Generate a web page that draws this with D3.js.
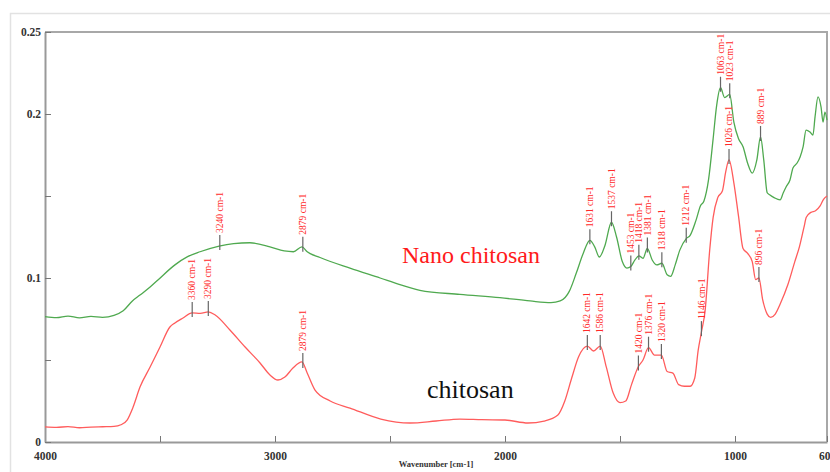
<!DOCTYPE html>
<html>
<head>
<meta charset="utf-8">
<script src="https://cdn.jsdelivr.net/npm/d3@7"></script>
<style>
  html, body { margin: 0; padding: 0; background: #fff; }
  svg { display: block; }
</style>
</head>
<body>
<svg id="chart" width="830" height="472"></svg>
<script>
// ---- data ----
const nanoWave = [4000,3950,3900,3850,3800,3750,3700,3660,3620,3587,3543,3509,3435,3380,3326,3243,3180,3109,3022,2960,2920,2883,2860,2804,2674,2543,2457,2370,2196,2022,1891,1800,1760,1720,1690,1660,1631,1610,1590,1565,1537,1515,1490,1470,1453,1435,1418,1400,1381,1360,1340,1318,1295,1280,1260,1240,1212,1195,1170,1150,1135,1115,1095,1080,1063,1045,1023,1005,985,965,945,925,905,889,875,860,848,830,804,790,778,761,748,730,717,704,691,674,661,652,639,626,617,609,600];
const nanoAbs  = [0.0765,0.0758,0.0768,0.0757,0.0766,0.0760,0.0772,0.0800,0.0860,0.0896,0.0945,0.0988,0.1080,0.1130,0.1160,0.1195,0.1210,0.1215,0.1190,0.1165,0.1160,0.1190,0.1160,0.1125,0.1060,0.1000,0.0960,0.0925,0.0900,0.0880,0.0860,0.0850,0.0860,0.0920,0.1030,0.1150,0.1230,0.1190,0.1128,0.1200,0.1340,0.1250,0.1100,0.1060,0.1070,0.1110,0.1135,0.1120,0.1180,0.1110,0.1080,0.1090,0.1020,0.1010,0.1080,0.1170,0.1240,0.1260,0.1350,0.1440,0.1470,0.1600,0.1850,0.2050,0.2160,0.2100,0.2120,0.1950,0.1850,0.1800,0.1700,0.1640,0.1720,0.1860,0.1720,0.1520,0.1506,0.1490,0.1476,0.1520,0.1555,0.1598,0.1671,0.1701,0.1738,0.1799,0.1902,0.1890,0.1872,0.1982,0.2104,0.2043,0.1951,0.2012,0.1963];

const chitWave = [4000,3950,3900,3850,3800,3750,3700,3670,3643,3617,3587,3543,3500,3457,3435,3400,3360,3325,3290,3260,3196,3130,3065,3022,2987,2957,2922,2883,2860,2826,2760,2674,2540,2413,2300,2196,2100,2000,1900,1830,1770,1740,1710,1680,1642,1615,1586,1560,1530,1500,1475,1450,1420,1400,1376,1350,1320,1295,1270,1245,1220,1195,1175,1160,1146,1130,1110,1095,1075,1055,1040,1026,1005,985,965,945,925,910,896,880,860,845,825,804,770,740,720,700,690,670,650,630,615,600];
const chitAbs  = [0.0092,0.0089,0.0094,0.0087,0.0091,0.0093,0.0095,0.0105,0.0134,0.0213,0.0335,0.0457,0.0579,0.0701,0.0726,0.0756,0.0787,0.0784,0.0793,0.0774,0.0683,0.0579,0.0482,0.0409,0.0378,0.0396,0.0451,0.0488,0.0421,0.0317,0.0250,0.0207,0.0140,0.0116,0.0128,0.0140,0.0136,0.0134,0.0116,0.0128,0.0165,0.0250,0.0390,0.0520,0.0585,0.0555,0.0585,0.0460,0.0300,0.0240,0.0250,0.0350,0.0460,0.0500,0.0575,0.0530,0.0530,0.0430,0.0420,0.0350,0.0340,0.0340,0.0390,0.0560,0.0670,0.0800,0.1170,0.1370,0.1490,0.1530,0.1650,0.1720,0.1580,0.1380,0.1180,0.1150,0.1100,0.0990,0.1000,0.0870,0.0780,0.0760,0.0780,0.0840,0.0960,0.1100,0.1190,0.1310,0.1370,0.1400,0.1410,0.1440,0.1480,0.1500];

const nanoPeaks = [3240,2879,1631,1537,1453,1418,1381,1318,1212,1063,1023,889];
const chitPeaks = [3360,3290,2879,1642,1586,1420,1376,1320,1146,1026,896];

const xTickLabels = [4000,3000,2000,1000,600];
const xMinorTicks = [3500,2500,1500];
const yTickLabels = [0.25,0.2,0.1,0];
const yMinorTicks = [0.15,0.05];

// ---- layout ----
const svg = d3.select("#chart");
const L = 45, R = 827, T = 32, B = 442;
const x = d3.scaleLinear().domain([4000, 600]).range([L, R]);
const y = d3.scaleLinear().domain([0, 0.25]).range([B, T]);
const serif = "'Liberation Serif','Times New Roman',serif";

// outer light frame
svg.append("rect").attr("x", 10.5).attr("y", 13.5).attr("width", 840).attr("height", 480)
  .attr("fill", "none").attr("stroke", "#e2e2e2").attr("stroke-width", 1.5);

// plot frame (top & right)
svg.append("path").attr("d", `M${L},${T}H${R}V${B}`).attr("fill", "none")
  .attr("stroke", "#a8a8a8").attr("stroke-width", 2);

// axes
const xAxis = d3.axisBottom(x).tickValues(xTickLabels.concat(xMinorTicks)).tickSizeInner(-6).tickSizeOuter(0)
  .tickFormat(d => xTickLabels.includes(d) ? d : "");
const gx = svg.append("g").attr("transform", `translate(0,${B})`).call(xAxis);
gx.select(".domain").attr("stroke", "#999").attr("stroke-width", 2);
gx.selectAll(".tick line").attr("stroke", "#777").attr("stroke-width", 1);
gx.selectAll(".tick text").attr("font-family", serif).attr("font-weight", "bold")
  .attr("font-size", 11.5).attr("fill", "#333").attr("dy", "0.71em").attr("y", 10);

const yAxis = d3.axisLeft(y).tickValues(yTickLabels.concat(yMinorTicks)).tickSizeInner(-6).tickSizeOuter(0)
  .tickFormat(d => yTickLabels.includes(d) ? String(d) : "");
const gy = svg.append("g").attr("transform", `translate(${L},0)`).call(yAxis);
gy.select(".domain").attr("stroke", "#999").attr("stroke-width", 2);
gy.selectAll(".tick line").attr("stroke", "#777").attr("stroke-width", 1);
gy.selectAll(".tick text").attr("font-family", serif).attr("font-weight", "bold")
  .attr("font-size", 11.5).attr("fill", "#333").attr("x", -4);

// axis title
svg.append("text").attr("x", 436).attr("y", 467).attr("text-anchor", "middle")
  .attr("font-family", serif).attr("font-weight", "bold").attr("font-size", 8.5)
  .attr("fill", "#333").text("Wavenumber [cm-1]");

// curves
const line = d3.line().x(d => x(d[0])).y(d => y(d[1])).curve(d3.curveMonotoneX);
const nano = nanoWave.map((w, i) => [w, nanoAbs[i]]);
const chit = chitWave.map((w, i) => [w, chitAbs[i]]);

svg.append("path").datum(chit).attr("d", line).attr("fill", "none")
  .attr("stroke", "#ff5c5c").attr("stroke-width", 1.3);
svg.append("path").datum(nano).attr("d", line).attr("fill", "none")
  .attr("stroke", "#4fa94f").attr("stroke-width", 1.3);

// peak markers
function valueAt(series, w) {
  for (let i = 0; i < series.length - 1; i++) {
    const a = series[i], b = series[i + 1];
    if (w <= a[0] && w >= b[0]) {
      const t = (a[0] - w) / (a[0] - b[0]);
      return a[1] + t * (b[1] - a[1]);
    }
  }
  return series[series.length - 1][1];
}
function drawPeaks(series, peaks) {
  const g = svg.append("g");
  peaks.forEach(p => {
    const px = x(p), py = y(valueAt(series, p));
    g.append("line").attr("x1", px).attr("x2", px).attr("y1", py - 11).attr("y2", py + 4)
      .attr("stroke", "#666").attr("stroke-width", 1.2);
    g.append("text").attr("transform", `translate(${px},${py - 13}) rotate(-90)`)
      .attr("dy", "0.33em").attr("font-family", serif).attr("font-size", 9.5)
      .attr("fill", "#ff2a2a").text(p + " cm-1");
  });
}
drawPeaks(nano, nanoPeaks);
drawPeaks(chit, chitPeaks);

// series labels
svg.append("text").attr("x", 402).attr("y", 263).attr("font-family", serif)
  .attr("font-size", 24).attr("fill", "#ff1a1a").text("Nano chitosan");
svg.append("text").attr("x", 427).attr("y", 398).attr("font-family", serif)
  .attr("font-size", 26).attr("fill", "#111").text("chitosan");
</script>
</body>
</html>
